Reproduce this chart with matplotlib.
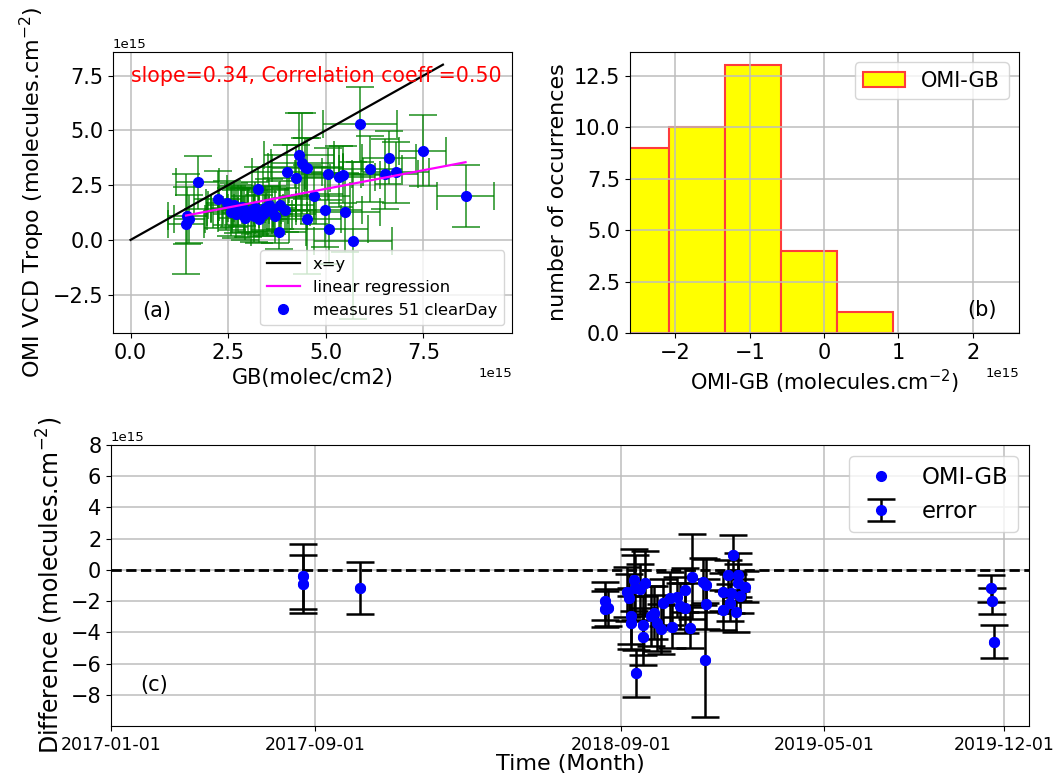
import numpy as np
import matplotlib
matplotlib.use("Agg")
import matplotlib.pyplot as plt
import matplotlib.dates as mdates
import pandas as pd

SCALE = 1e15

# ---------------- Panel (a): scatter OMI vs GB (units of 1e15) ----------------
gb_x = [1.42, 1.45, 1.50, 1.72, 2.23, 2.47, 2.56, 2.64, 2.75, 2.86, 2.94, 3.00, 3.11,
        3.20, 3.26, 3.30, 3.38, 3.45, 3.54, 3.62, 3.71, 3.79, 3.84, 3.96, 4.01, 4.25,
        4.31, 4.40, 4.48, 4.53, 4.53, 4.71, 4.99, 5.05, 5.07, 5.35, 5.43, 5.50, 5.69,
        5.88, 6.14, 6.52, 6.62, 6.80, 7.48, 8.58, 2.70, 2.90, 3.15, 3.50, 2.60]
omi_y = [0.73, 1.10, 0.95, 2.63, 1.86, 1.67, 1.29, 1.60, 1.40, 1.52, 0.99, 1.25, 1.37,
         1.45, 2.31, 0.96, 1.20, 1.45, 1.60, 1.35, 1.07, 0.38, 1.60, 1.37, 3.12, 2.82,
         3.88, 3.50, 3.35, 3.27, 0.94, 2.01, 1.37, 3.01, 0.50, 2.89, 2.97, 1.26, -0.03,
         5.27, 3.23, 3.01, 3.76, 3.09, 4.08, 2.01, 1.20, 1.35, 1.10, 1.30, 1.45]
gb_xerr = [0.45, 0.50, 0.40, 0.55, 0.60, 0.55, 0.60, 0.65, 0.70, 0.60, 0.70, 0.65, 0.75,
           0.70, 0.80, 0.70, 0.75, 0.80, 0.70, 0.75, 0.80, 0.70, 0.85, 0.80, 0.90, 0.85,
           0.90, 0.80, 0.95, 0.90, 0.85, 0.90, 0.95, 0.85, 1.00, 0.90, 0.95, 0.90, 1.00,
           0.95, 0.80, 0.85, 0.70, 0.85, 0.60, 0.74, 0.60, 0.65, 0.70, 0.75, 0.55]
omi_yerr = [2.30, 1.30, 1.10, 1.20, 1.30, 1.00, 1.10, 1.00, 1.10, 0.90, 1.00, 1.10, 1.00,
            1.20, 1.00, 1.10, 1.00, 1.00, 1.20, 1.10, 1.20, 0.80, 1.10, 1.00, 1.20, 1.50,
            1.90, 2.30, 1.30, 1.40, 2.50, 1.30, 1.70, 1.20, 1.60, 1.40, 1.30, 1.80, 3.60,
            1.70, 1.50, 1.60, 1.20, 1.40, 1.60, 1.40, 1.10, 1.00, 1.20, 1.10, 1.00]
slope = 0.34
intercept = 0.63
corr_coeff = 0.50
n_clear_days = 51
diag_end = 8.0
a_xticks = [0.0, 2.5, 5.0, 7.5]

# ---------------- Panel (b): histogram of OMI-GB (units of 1e15) ----------------
hist_edges = [-2.835, -2.085, -1.336, -0.578, 0.175, 0.924]
hist_counts = [9, 10, 13, 4, 1]

# ---------------- Panel (c): time series of differences (units of 1e15) ----------------
dates_c = ["2017-08-18", "2017-08-18", "2017-10-25",
           "2018-08-13", "2018-08-13", "2018-08-16",
           "2018-09-08", "2018-09-10", "2018-09-13", "2018-09-13", "2018-09-16",
           "2018-09-17", "2018-09-19", "2018-09-23", "2018-09-27", "2018-09-27",
           "2018-09-29", "2018-10-06", "2018-10-10", "2018-10-14", "2018-10-19",
           "2018-10-21", "2018-10-29", "2018-10-31", "2018-11-06", "2018-11-10",
           "2018-11-16", "2018-11-16", "2018-11-22", "2018-11-25", "2018-12-08",
           "2018-12-11", "2018-12-11", "2018-12-10", "2018-12-31", "2018-12-31",
           "2019-01-06", "2019-01-09", "2019-01-10", "2019-01-12", "2019-01-16",
           "2019-01-18", "2019-01-18", "2019-01-21", "2019-01-26",
           "2019-11-16", "2019-11-17", "2019-11-19"]
diff_c = [-0.42, -0.90, -1.17,
          -1.99, -2.48, -2.41,
          -1.41, -1.77, -2.95, -3.37, -0.66, -1.13, -6.62, -1.24, -3.55, -4.27,
          -0.87, -2.95, -2.73, -3.42, -3.80, -2.09, -1.81, -3.63, -1.73, -2.31,
          -2.41, -1.28, -3.70, -0.43, -0.75, -0.98, -2.16, -5.77, -1.41, -2.58,
          -0.34, -2.09, -1.45, 0.96, -2.67, -0.32, -0.81, -1.66, -1.07,
          -1.19, -1.99, -4.61]
err_c = [2.07, 1.86, 1.65,
         1.20, 1.15, 1.20,
         1.60, 1.50, 1.80, 1.70, 2.00, 2.10, 1.52, 1.60, 1.90, 1.80, 2.10, 1.90,
         1.70, 1.80, 1.60, 1.50, 1.70, 1.40, 1.30, 1.50, 1.60, 1.40, 1.30, 2.72,
         1.50, 1.70, 1.60, 3.65, 1.20, 1.30, 1.00, 1.20, 1.30, 1.25, 1.30, 1.40,
         1.20, 1.10, 1.00,
         0.87, 0.86, 1.06]
date_ticks = ["2017-01-01", "2017-09-01", "2018-09-01", "2019-05-01", "2019-12-01"]
date_range = ["2017-01-01", "2019-12-31"]
c_yticks = [-8, -6, -4, -2, 0, 2, 4, 6, 8]

# ---------------- styling ----------------
plt.rcParams.update({
    "xtick.labelsize": 15,
    "ytick.labelsize": 15,
    "grid.color": "#bdbdbd",
    "grid.linewidth": 1.1,
})

fig = plt.figure(figsize=(10.57, 7.78), dpi=100)
ax1 = fig.add_axes([0.1069, 0.572, 0.3775, 0.3612])
ax2 = fig.add_axes([0.596, 0.572, 0.368, 0.3612])
ax3 = fig.add_axes([0.105, 0.0668, 0.8685, 0.3612])

# ----- (a) -----
x = np.array(gb_x) * SCALE
y = np.array(omi_y) * SCALE
ax1.errorbar(x, y, xerr=np.array(gb_xerr) * SCALE, yerr=np.array(omi_yerr) * SCALE,
             fmt='none', ecolor='green', alpha=0.75, elinewidth=1.3, capsize=10,
             capthick=1.3, zorder=2)
ax1.plot([0, diag_end * SCALE], [0, diag_end * SCALE], color='black', lw=1.6,
         label='x=y', zorder=3)
xr = np.array([min(gb_x), max(gb_x)])
ax1.plot(xr * SCALE, (slope * xr + intercept) * SCALE, color='magenta', lw=1.6,
         label='linear regression', zorder=4)
ax1.plot(x, y, 'o', color='blue', ms=7, label=f'measures {n_clear_days} clearDay', zorder=3.5)
ax1.text(0, 7.5 * SCALE, f'slope={slope:.2f}, Correlation coeff ={corr_coeff:.2f}',
         color='red', fontsize=14.8, va='center', ha='left')
ax1.text(0.68 * SCALE, -3.23 * SCALE, '(a)', fontsize=15, ha='center', va='center')
ax1.set_xlim(-0.45 * SCALE, 9.77 * SCALE)
ax1.set_ylim(-4.25 * SCALE, 8.58 * SCALE)
ax1.set_xticks(np.array(a_xticks) * SCALE)
ax1.grid(True)
ax1.set_xlabel('GB(molec/cm2)', fontsize=15)
ax1.set_ylabel('OMI VCD Tropo (molecules.cm$^{-2}$)', fontsize=16)
ax1.legend(loc='lower right', fontsize=11.8)

# ----- (b) -----
edges = np.array(hist_edges)
centers = (edges[:-1] + edges[1:]) / 2
ax2.hist(centers * SCALE, bins=edges * SCALE, weights=hist_counts,
         facecolor='yellow', edgecolor='#ff3b3b', linewidth=1.5, label='OMI-GB')
ax2.set_xlim(-2.61 * SCALE, 2.62 * SCALE)
ax2.grid(True)
ax2.text(2.12 * SCALE, 1.1, '(b)', fontsize=15, ha='center', va='center')
ax2.set_xlabel('OMI-GB (molecules.cm$^{-2}$)', fontsize=15)
ax2.set_ylabel('number of occurrences', fontsize=16)
ax2.legend(loc='upper right', fontsize=15)

# ----- (c) -----
d = pd.to_datetime(dates_c)
diff = np.array(diff_c) * SCALE
ax3.axhline(0, color='black', ls='--', lw=2, zorder=2)
eb = ax3.errorbar(d, diff, yerr=np.array(err_c) * SCALE, fmt='o', color='blue',
                  ecolor='black', elinewidth=1.8, capsize=10, capthick=1.8, ms=7,
                  label='error', zorder=3)
pts, = ax3.plot(d, diff, 'o', color='blue', ms=7, label='OMI-GB', zorder=4)
ax3.set_ylim(-10 * SCALE, 8 * SCALE)
ax3.set_yticks(np.array(c_yticks) * SCALE)
ax3.set_xlim(pd.Timestamp(date_range[0]), pd.Timestamp(date_range[1]))
ax3.set_xticks(pd.to_datetime(date_ticks))
ax3.xaxis.set_major_formatter(mdates.DateFormatter('%Y-%m-%d'))
ax3.tick_params(axis='x', labelsize=12.5)
ax3.grid(True)
ax3.text(pd.Timestamp('2017-02-22'), -7.37 * SCALE, '(c)', fontsize=15,
         ha='center', va='center')
ax3.set_xlabel('Time (Month)', fontsize=16, labelpad=0)
ax3.set_ylabel('Difference (molecules.cm$^{-2}$)', fontsize=17)
ax3.legend(handles=[pts, eb], labels=['OMI-GB', 'error'], loc='upper right', fontsize=16.4)

for ax in (ax1, ax2, ax3):
    ax.xaxis.get_offset_text().set_fontsize(9.5)
    ax.yaxis.get_offset_text().set_fontsize(9.5)

fig.savefig('out.png', dpi=100)
